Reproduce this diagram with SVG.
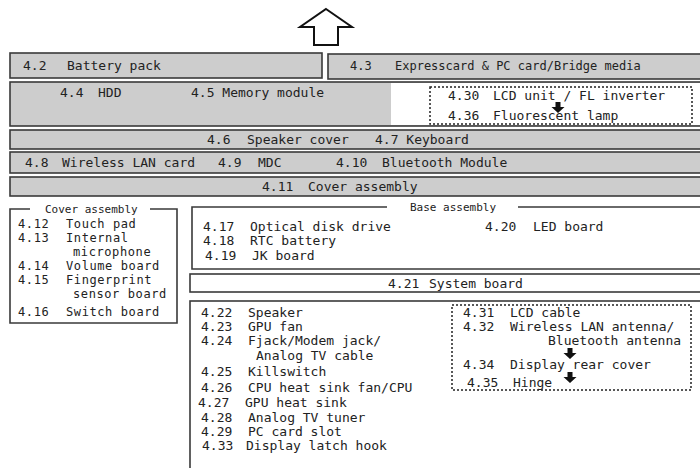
<svg xmlns="http://www.w3.org/2000/svg" width="700" height="468" viewBox="0 0 700 468">
<style>
text{font-family:"DejaVu Sans Mono","Liberation Mono",monospace;font-size:13px;fill:#222}
.t{font-size:11px}
.s{font-size:12px}
.c{font-size:12px;letter-spacing:0.6px}
.g{fill:#cdcdcd;stroke:#3a3a3a;stroke-width:1.6}
.w{fill:#fff;stroke:#3a3a3a;stroke-width:1.6}
.d{fill:none;stroke:#222;stroke-width:1.5;stroke-dasharray:2 2}
.ln{fill:none;stroke:#3a3a3a;stroke-width:1.6}
.ar{fill:#111}
</style>
<g id="battery">
<rect class="g" x="10" y="53" width="312" height="25"/>
<text x="23" y="70">4.2</text><text x="67" y="70">Battery pack</text>
</g>
<g id="expresscard">
<rect class="g" x="328" y="54" width="376" height="25"/>
<text x="350" y="70" class="s">4.3</text><text x="395" y="70" class="s">Expresscard &amp; PC card/Bridge media</text>
</g>
<g id="hdd-memory">
<rect class="g" x="10" y="82" width="694" height="44"/>
<rect x="391" y="83" width="312" height="42" fill="#fff"/>
<text x="60" y="97">4.4</text><text x="98" y="97">HDD</text>
<text x="191" y="97">4.5 Memory module</text>
</g>
<g id="lcd-unit">
<rect class="d" x="430" y="87" width="262" height="37"/>
<text x="448" y="100">4.30</text><text x="493" y="100">LCD unit / FL inverter</text>
<text x="448" y="120">4.36</text><text x="493" y="120">Fluorescent lamp</text>
</g>
<g id="speaker-keyboard">
<rect class="g" x="10" y="130" width="694" height="19"/>
<text x="207" y="144">4.6</text><text x="247" y="144">Speaker cover</text>
<text x="375" y="144">4.7 Keyboard</text>
</g>
<g id="wlan-mdc-bt">
<rect class="g" x="10" y="152" width="694" height="21"/>
<text x="25" y="167">4.8</text><text x="62" y="167">Wireless LAN card</text>
<text x="218" y="167">4.9</text><text x="258" y="167">MDC</text>
<text x="336" y="167">4.10</text><text x="382" y="167">Bluetooth Module</text>
</g>
<g id="cover-assembly-row">
<rect class="g" x="10" y="177" width="694" height="19"/>
<text x="262" y="191">4.11</text><text x="308" y="191">Cover assembly</text>
</g>
<g id="cover-assembly">
<path class="ln" d="M30,209 H10 V323 H177 V209 H150"/>
<text class="t" x="45" y="213">Cover assembly</text>
<text class="c" x="18" y="228">4.12</text><text class="c" x="66" y="228">Touch pad</text>
<text class="c" x="18" y="242">4.13</text><text class="c" x="66" y="242">Internal</text>
<text class="c" x="73" y="256">microphone</text>
<text class="c" x="18" y="270">4.14</text><text class="c" x="66" y="270">Volume board</text>
<text class="c" x="18" y="284">4.15</text><text class="c" x="66" y="284">Fingerprint</text>
<text class="c" x="73" y="298">sensor board</text>
<text class="c" x="18" y="316">4.16</text><text class="c" x="66" y="316">Switch board</text>
</g>
<g id="base-assembly">
<path class="ln" d="M387,207 H192 V269 H704 M518,207 H704"/>
<text class="t" x="410" y="211">Base assembly</text>
<text x="203" y="231">4.17</text><text x="250" y="231">Optical disk drive</text>
<text x="203" y="245">4.18</text><text x="250" y="245">RTC battery</text>
<text x="205" y="260">4.19</text><text x="252" y="260">JK board</text>
<text x="485" y="231">4.20</text><text x="533" y="231">LED board</text>
</g>
<g id="system-board">
<rect class="w" x="190" y="274" width="514" height="18"/>
<text x="388" y="288">4.21</text><text x="429" y="288">System board</text>
</g>
<g id="system-board-parts">
<rect class="w" x="190" y="301" width="514" height="180"/>
<text x="201" y="317">4.22</text><text x="248" y="317">Speaker</text>
<text x="201" y="331">4.23</text><text x="248" y="331">GPU fan</text>
<text x="201" y="345">4.24</text><text x="248" y="345">Fjack/Modem jack/</text>
<text x="256" y="360">Analog TV cable</text>
<text x="201" y="376">4.25</text><text x="248" y="376">Killswitch</text>
<text x="201" y="392">4.26</text><text x="248" y="392">CPU heat sink fan/CPU</text>
<text x="198" y="407">4.27</text><text x="245" y="407">GPU heat sink</text>
<text x="201" y="422">4.28</text><text x="248" y="422">Analog TV tuner</text>
<text x="201" y="436">4.29</text><text x="248" y="436">PC card slot</text>
<text x="202" y="450">4.33</text><text x="246" y="450">Display latch hook</text>
</g>
<g id="display-parts">
<rect class="d" x="452" y="305" width="239" height="85"/>
<text x="463" y="317">4.31</text><text x="510" y="317">LCD cable</text>
<text x="463" y="331">4.32</text><text x="510" y="331">Wireless LAN antenna/</text>
<text x="548" y="345">Bluetooth antenna</text>
<text x="463" y="369">4.34</text><text x="510" y="369">Display rear cover</text>
<text x="467" y="387">4.35</text><text x="513" y="387">Hinge</text>
</g>
<g id="connectors">
<polygon points="326,9 352,27 338,27 338,45 314,45 314,27 300,27" fill="#fff" stroke="#111" stroke-width="2"/>
<path class="ar" d="M555.5,102 h5 v5 h4 l-6.5,6 l-6.5,-6 h4 z"/>
<path class="ar" d="M567.5,348 h5 v5 h4 l-6.5,6 l-6.5,-6 h4 z"/>
<path class="ar" d="M567.5,372 h5 v5 h4 l-6.5,6 l-6.5,-6 h4 z"/>
</g>
</svg>
